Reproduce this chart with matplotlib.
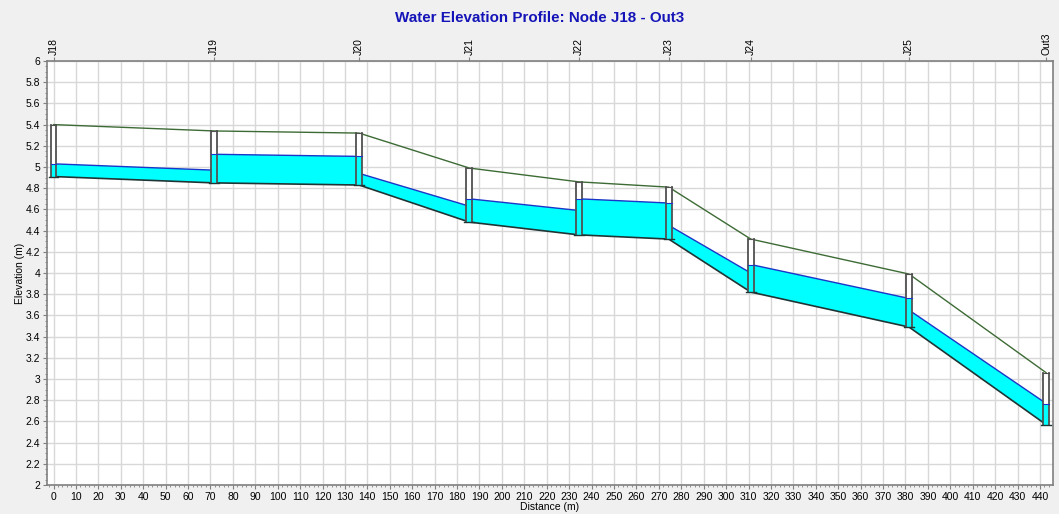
import numpy as np
import matplotlib
matplotlib.use("Agg")
from matplotlib import pyplot as plt
from matplotlib.patches import Polygon, Rectangle
from matplotlib.ticker import MultipleLocator

plt.rcParams['font.family'] = ['Liberation Sans', 'DejaVu Sans']

# nodes along the profile
node_names = ["J18", "J19", "J20", "J21", "J22", "J23", "J24", "J25", "Out3"]
node_dist = [0.0, 71.7, 136.3, 185.5, 234.2, 274.4, 311.0, 381.6, 442.7]
ground_elev = [5.40, 5.34, 5.32, 4.99, 4.86, 4.81, 4.32, 3.99, 3.06]
invert_elev = [4.91, 4.85, 4.83, 4.48, 4.36, 4.32, 3.82, 3.49, 2.57]
node_water = [5.03, 5.12, 5.10, 4.70, 4.70, 4.66, 4.08, 3.76, 2.76]

# water level at the upstream / downstream end of each conduit
link_water_up = [5.03, 5.12, 4.94, 4.70, 4.70, 4.45, 4.08, 3.65]
link_water_dn = [4.97, 5.10, 4.63, 4.59, 4.66, 4.00, 3.76, 2.77]

water_fill = "#00ffff"
water_line = "#1a35c8"
ground_col = "#3d6b35"
invert_col = "#1f3535"
box_col = "#505050"

fig = plt.figure(figsize=(10.59, 5.14), dpi=100)
fig.patch.set_facecolor("#f0f0f0")
ax = fig.add_axes([47 / 1059, 1 - 485 / 514, 1006 / 1059, 424 / 514])
ax.set_facecolor("white")

x = np.array(node_dist)
inv = np.array(invert_elev)
top = np.array(ground_elev)

# water in conduits
for i in range(len(x) - 1):
    poly = Polygon([(x[i], inv[i]), (x[i + 1], inv[i + 1]),
                    (x[i + 1], link_water_dn[i]), (x[i], link_water_up[i])],
                   closed=True, facecolor=water_fill, edgecolor="none", zorder=2)
    ax.add_patch(poly)
    ax.plot([x[i], x[i + 1]], [link_water_up[i], link_water_dn[i]],
            color=water_line, lw=1.0, zorder=3)

ax.plot(x, top, color=ground_col, lw=1.0, zorder=3)
ax.plot(x, inv, color=invert_col, lw=1.2, zorder=3)

# node boxes
half_w = 1.3
for xi, lo, hi, wl in zip(x, inv, top, node_water):
    ax.add_patch(Rectangle((xi - half_w, lo), 2 * half_w, hi - lo,
                           facecolor="white", edgecolor="none", zorder=4))
    ax.add_patch(Rectangle((xi - half_w, lo), 2 * half_w, wl - lo,
                           facecolor=water_fill, edgecolor="none", zorder=4))
    ax.plot([xi - half_w, xi - half_w], [lo, hi], color=box_col, lw=1.3, zorder=5)
    ax.plot([xi + half_w, xi + half_w], [lo, hi], color=box_col, lw=1.3, zorder=5)
    ax.plot([xi - half_w, xi + half_w], [hi, hi], color=box_col, lw=0.8, zorder=5)
    ax.plot([xi - half_w, xi + half_w], [wl, wl], color=water_line, lw=0.8, zorder=5)
    ax.plot([xi - 2.2, xi + 2.2], [lo, lo], color=invert_col, lw=1.0, zorder=5)

ax.set_xlim(-2.9, 445.8)
ax.set_ylim(2, 6)
ax.xaxis.set_major_locator(MultipleLocator(10))
ax.xaxis.set_minor_locator(MultipleLocator(2))
ax.yaxis.set_major_locator(MultipleLocator(0.2))
ax.yaxis.set_minor_locator(MultipleLocator(0.05))
ax.set_yticks(np.arange(2, 6.01, 0.2))
ax.set_yticklabels([f"{v:g}" for v in np.round(np.arange(2, 6.01, 0.2), 1)])
ax.set_xticks(np.arange(0, 441, 10))
ax.grid(True, which="major", color="#d8d8d8", lw=1.0, zorder=0)
ax.set_axisbelow(True)
ax.tick_params(axis="both", which="major", labelsize=7.5, length=3,
               color="#808080", pad=2)
ax.tick_params(axis="both", which="minor", length=1.5, color="#808080")
for s in ax.spines.values():
    s.set_color("#808080")
    s.set_linewidth(1.2)

ax.set_xlabel("Distance (m)", fontsize=7.5, labelpad=0)
ax.set_ylabel("Elevation (m)", fontsize=7.5, labelpad=0)

# node labels on top
ax2 = ax.twiny()
ax2.set_xlim(ax.get_xlim())
ax2.set_xticks(node_dist)
ax2.set_xticklabels(node_names, rotation=90, fontsize=7.5)
ax2.tick_params(axis="x", length=3, color="#808080", pad=1)
for s in ax2.spines.values():
    s.set_visible(False)

fig.text(540 / 1059, 1 - 18 / 514, "Water Elevation Profile: Node J18 - Out3",
         ha="center", va="center", fontsize=10.9, fontweight="bold",
         color="#1414b8")

fig.savefig("out.png", dpi=100, facecolor=fig.get_facecolor())
